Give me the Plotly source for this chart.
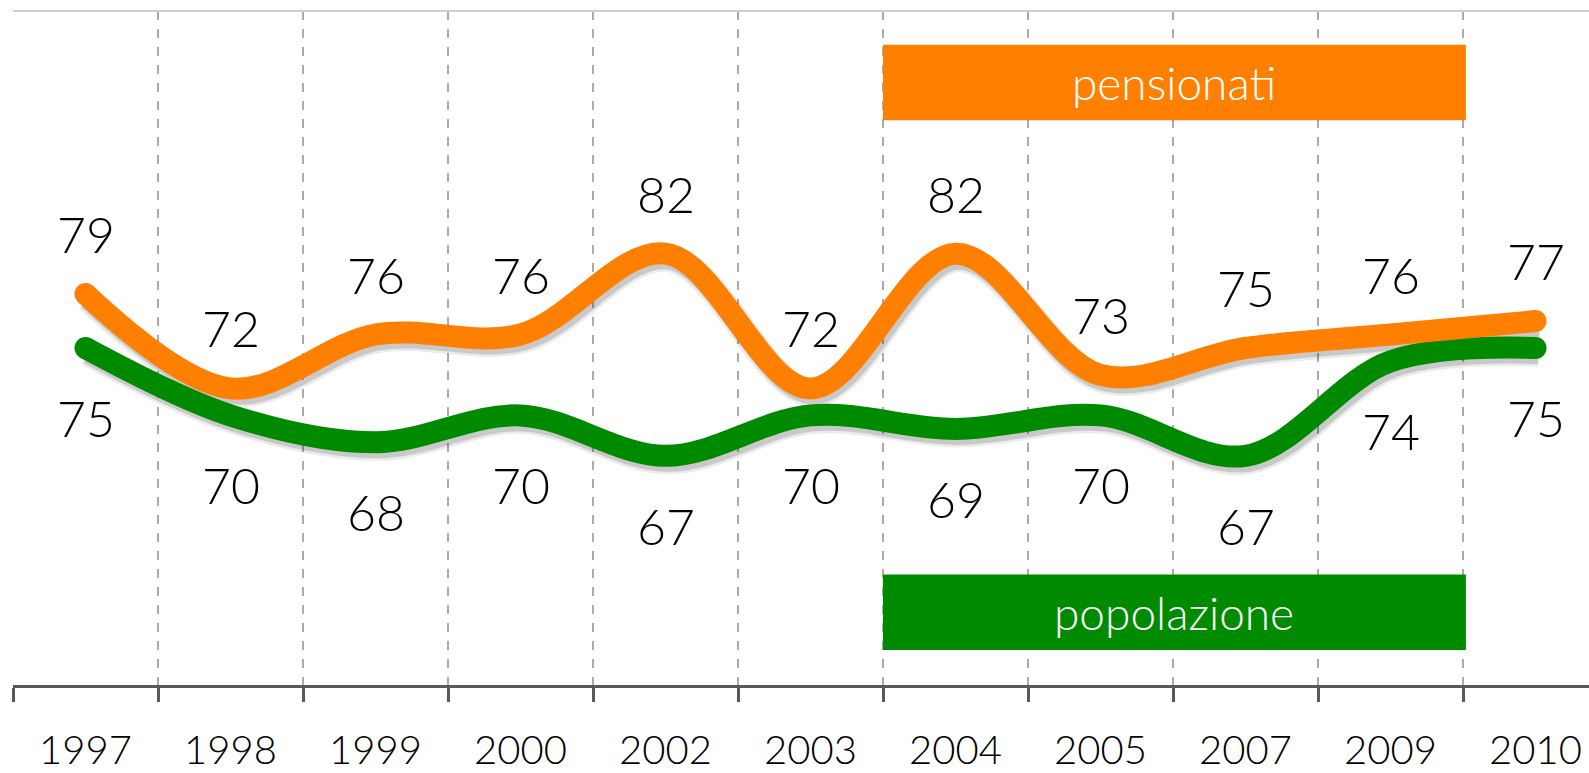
import plotly.graph_objects as go

years = ["1997", "1998", "1999", "2000", "2002", "2003", "2004", "2005", "2007", "2009", "2010"]
pensionati = [79, 72, 76, 76, 82, 72, 82, 73, 75, 76, 77]
popolazione = [75, 70, 68, 70, 67, 70, 69, 70, 67, 74, 75]
series_names = ["pensionati", "popolazione"]

ORANGE = "#FF7F00"
GREEN = "#008A00"
FONT = "Lato"

W, H = 1589, 773
ML, MR, MT, MB = 13, 0, 11, 88
plot_w = W - ML - MR
plot_h = H - MT - MB
cat_px = 145.0
x_range = [-0.5, -0.5 + plot_w / cat_px]
y_range = [50, 100]
px_per_unit = plot_h / (y_range[1] - y_range[0])

# shadow offsets (px)
sdx, sdy = 3, 5
x2_range = [x_range[0] - sdx / cat_px, x_range[1] - sdx / cat_px]
y2_range = [y_range[0] + sdy / px_per_unit, y_range[1] + sdy / px_per_unit]

LW = 22
fig = go.Figure()

# shadows (x2/y2, shifted)
for vals in (popolazione, pensionati):
    fig.add_trace(go.Scatter(
        x=years, y=vals, mode="lines", xaxis="x2", yaxis="y2",
        line=dict(color="rgba(0,0,0,0.08)", width=LW + 5, shape="spline", smoothing=1),
        hoverinfo="skip", showlegend=False))
    fig.add_trace(go.Scatter(
        x=years, y=vals, mode="lines", xaxis="x2", yaxis="y2",
        line=dict(color="rgba(0,0,0,0.14)", width=LW, shape="spline", smoothing=1),
        hoverinfo="skip", showlegend=False))

# main lines (x3/y3, on top)
for vals, col, name in ((popolazione, GREEN, series_names[1]), (pensionati, ORANGE, series_names[0])):
    fig.add_trace(go.Scatter(
        x=years, y=vals, mode="lines", name=name, xaxis="x3", yaxis="y3",
        line=dict(color=col, width=LW, shape="spline", smoothing=1),
        showlegend=False))
    fig.add_trace(go.Scatter(
        x=[years[0], years[-1]], y=[vals[0], vals[-1]], mode="markers",
        xaxis="x3", yaxis="y3",
        marker=dict(size=LW, color=col, line=dict(width=0)),
        hoverinfo="skip", showlegend=False))

# invisible trace to anchor the main category axis
fig.add_trace(go.Scatter(x=years, y=pensionati, mode="lines", line=dict(width=0),
                         hoverinfo="skip", showlegend=False))

annotations = []
for i, v in enumerate(pensionati):
    annotations.append(dict(x=i, y=v, xref="x", yref="y", text=str(v), showarrow=False, yshift=60,
                            font=dict(family=FONT, size=50, color="black", weight=300)))
for i, v in enumerate(popolazione):
    annotations.append(dict(x=i, y=v, xref="x", yref="y", text=str(v), showarrow=False, yshift=-70,
                            font=dict(family=FONT, size=50, color="black", weight=300)))

shapes = [
    dict(type="rect", xref="x", yref="y", x0=5.5, x1=9.52, y0=91.9, y1=97.5,
         fillcolor=ORANGE, line=dict(width=0), layer="above"),
    dict(type="rect", xref="x", yref="y", x0=5.5, x1=9.52, y0=52.6, y1=58.2,
         fillcolor=GREEN, line=dict(width=0), layer="above"),
    dict(type="line", xref="paper", yref="paper", x0=0, x1=1, y0=1, y1=1,
         line=dict(color="#cfcfcf", width=2)),
]
annotations.append(dict(x=7.51, y=(91.9 + 97.5) / 2, xref="x", yref="y", text=series_names[0],
                        showarrow=False, font=dict(family=FONT, size=46, color="white", weight=300)))
annotations.append(dict(x=7.51, y=(52.6 + 58.2) / 2, xref="x", yref="y", text=series_names[1],
                        showarrow=False, font=dict(family=FONT, size=46, color="white", weight=300)))

hidden_cat = dict(type="category", overlaying="x", visible=False, showgrid=False,
                  categoryorder="array", categoryarray=years)
fig.update_layout(
    width=W, height=H,
    margin=dict(l=ML, r=MR, t=MT, b=MB, pad=0, autoexpand=False),
    paper_bgcolor="white", plot_bgcolor="white",
    showlegend=False,
    xaxis=dict(type="category", range=x_range, tickson="boundaries",
               categoryorder="array", categoryarray=years, automargin=False,
               ticks="outside", ticklen=14, tickwidth=3, tickcolor="#595959",
               showline=True, linecolor="#595959", linewidth=3,
               showgrid=True, gridcolor="#ababab", griddash="dash", gridwidth=1.5,
               tickfont=dict(family=FONT, size=40, color="black", weight=300),
               ticklabelstandoff=28, zeroline=False, fixedrange=True),
    yaxis=dict(range=y_range, visible=False, showgrid=False, zeroline=False, automargin=False),
    xaxis2=dict(hidden_cat, range=x2_range),
    yaxis2=dict(range=y2_range, overlaying="y", visible=False, showgrid=False),
    xaxis3=dict(hidden_cat, range=x_range),
    yaxis3=dict(range=y_range, overlaying="y", visible=False, showgrid=False),
    shapes=shapes,
    annotations=annotations,
)

fig.write_html("out.html", config={"displayModeBar": False},
               post_script="document.body.style.margin='0';document.body.style.overflow='hidden';")
